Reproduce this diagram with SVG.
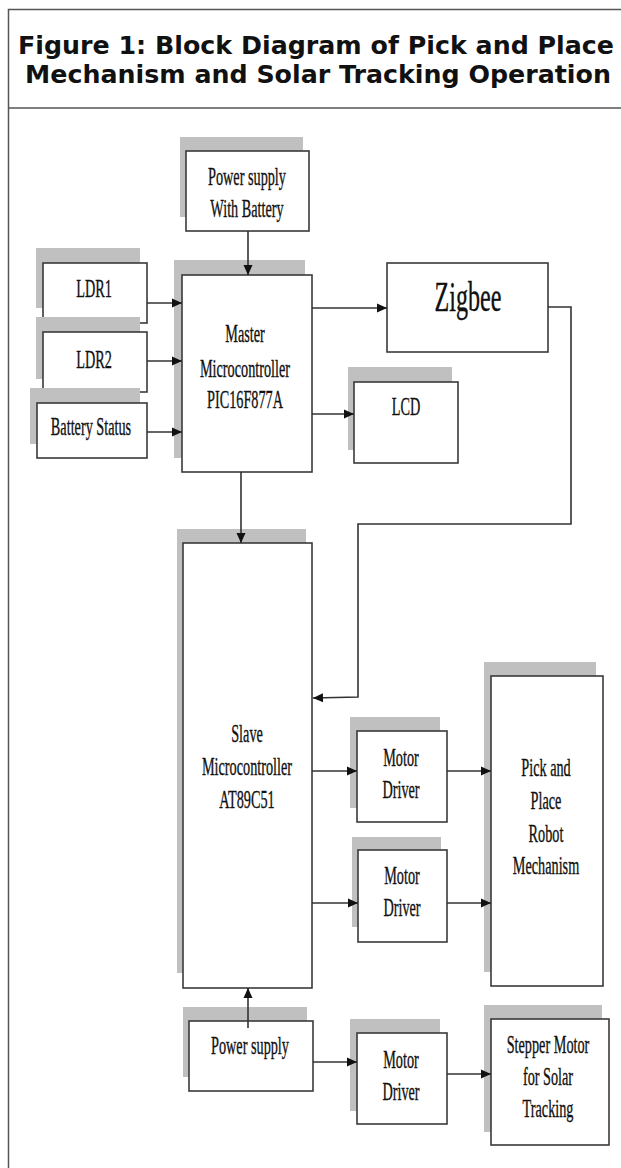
<svg xmlns="http://www.w3.org/2000/svg" width="621" height="1168" viewBox="0 0 621 1168">
<style>
.frame{fill:none;stroke:#555;stroke-width:1.5}
.title{font-family:"DejaVu Sans",Verdana,sans-serif;font-weight:bold;font-size:25.3px;fill:#111;text-anchor:middle}
.sh{fill:#c0c0c0}
.bx{fill:#fff;stroke:#3a3a3a;stroke-width:1.6}
.t{font-family:"Liberation Serif","Times New Roman",serif;font-size:25px;fill:#111;stroke:#111;stroke-width:0.35;text-anchor:middle}
.tz{font-family:"Liberation Serif","Times New Roman",serif;font-size:43px;fill:#111;stroke:#111;stroke-width:0.4;text-anchor:middle}
.c{fill:none;stroke:#333;stroke-width:1.6}
</style>
<defs>
<marker id="ah" markerUnits="userSpaceOnUse" markerWidth="11" markerHeight="11" refX="10" refY="5.5" orient="auto">
<path d="M0,1 L10,5.5 L0,10 z" fill="#111"/>
</marker>
</defs>
<rect x="0" y="0" width="621" height="1168" fill="#fff"/>
<g id="frame">
<rect class="frame" x="8.5" y="9.5" width="630" height="1180"/>
<line class="frame" x1="8" y1="108" x2="621" y2="108"/>
<text class="title" x="316" y="54">Figure 1: Block Diagram of Pick and Place</text>
<text class="title" x="318" y="83">Mechanism and Solar Tracking Operation</text>
</g>
<g id="psb">
<rect class="sh" x="180" y="137" width="123" height="80"/>
<rect class="bx" x="186" y="151" width="123" height="80"/>
<text class="t" transform="translate(247,185) scale(0.57,1)">Power supply</text>
<text class="t" transform="translate(247,217) scale(0.57,1)">With Battery</text>
</g>
<g id="ldr1">
<rect class="sh" x="36" y="248" width="104" height="60"/>
<rect class="bx" x="43" y="263" width="104" height="60"/>
<text class="t" transform="translate(94,297) scale(0.57,1)">LDR1</text>
</g>
<g id="ldr2">
<rect class="sh" x="36" y="317" width="104" height="62"/>
<rect class="bx" x="43" y="332" width="104" height="60"/>
<text class="t" transform="translate(94,368) scale(0.57,1)">LDR2</text>
</g>
<g id="battery">
<rect class="sh" x="30" y="388" width="110" height="56"/>
<rect class="bx" x="37" y="403" width="110" height="55"/>
<text class="t" transform="translate(91,435) scale(0.57,1)">Battery Status</text>
</g>
<g id="master">
<rect class="sh" x="174" y="260" width="131" height="198"/>
<rect class="bx" x="182" y="275" width="130" height="197"/>
<text class="t" transform="translate(245,342) scale(0.57,1)">Master</text>
<text class="t" transform="translate(245,377) scale(0.57,1)">Microcontroller</text>
<text class="t" transform="translate(245,408) scale(0.57,1)">PIC16F877A</text>
</g>
<g id="zigbee">
<rect class="bx" x="387" y="263" width="161" height="89"/>
<text class="tz" transform="translate(468,311) scale(0.56,1)">Zigbee</text>
</g>
<g id="lcd">
<rect class="sh" x="348" y="367" width="104" height="83"/>
<rect class="bx" x="354" y="382" width="104" height="81"/>
<text class="t" transform="translate(406,415) scale(0.57,1)">LCD</text>
</g>
<g id="slave">
<rect class="sh" x="177" y="529" width="129" height="444"/>
<rect class="bx" x="183" y="543" width="129" height="445"/>
<text class="t" transform="translate(247,742) scale(0.57,1)">Slave</text>
<text class="t" transform="translate(247,775) scale(0.57,1)">Microcontroller</text>
<text class="t" transform="translate(247,808) scale(0.57,1)">AT89C51</text>
</g>
<g id="md1">
<rect class="sh" x="350" y="717" width="90" height="91"/>
<rect class="bx" x="357" y="731" width="90" height="91"/>
<text class="t" transform="translate(401,766) scale(0.57,1)">Motor</text>
<text class="t" transform="translate(401,798) scale(0.57,1)">Driver</text>
</g>
<g id="md2">
<rect class="sh" x="352" y="837" width="89" height="90"/>
<rect class="bx" x="358" y="850" width="89" height="92"/>
<text class="t" transform="translate(402,884) scale(0.57,1)">Motor</text>
<text class="t" transform="translate(402,916) scale(0.57,1)">Driver</text>
</g>
<g id="pnp">
<rect class="sh" x="484" y="662" width="112" height="310"/>
<rect class="bx" x="491" y="676" width="112" height="310"/>
<text class="t" transform="translate(546,776) scale(0.57,1)">Pick and</text>
<text class="t" transform="translate(546,809) scale(0.57,1)">Place</text>
<text class="t" transform="translate(546,842) scale(0.57,1)">Robot</text>
<text class="t" transform="translate(546,874) scale(0.57,1)">Mechanism</text>
</g>
<g id="ps">
<rect class="sh" x="183" y="1007" width="124" height="70"/>
<rect class="bx" x="189" y="1021" width="124" height="70"/>
<text class="t" transform="translate(250,1054) scale(0.57,1)">Power supply</text>
</g>
<g id="md3">
<rect class="sh" x="350" y="1019" width="90" height="92"/>
<rect class="bx" x="357" y="1033" width="90" height="91"/>
<text class="t" transform="translate(401,1068) scale(0.57,1)">Motor</text>
<text class="t" transform="translate(401,1100) scale(0.57,1)">Driver</text>
</g>
<g id="stepper">
<rect class="sh" x="484" y="1005" width="118" height="127"/>
<rect class="bx" x="491" y="1019" width="118" height="126"/>
<text class="t" transform="translate(548,1053) scale(0.57,1)">Stepper Motor</text>
<text class="t" transform="translate(548,1085) scale(0.57,1)">for Solar</text>
<text class="t" transform="translate(548,1117) scale(0.57,1)">Tracking</text>
</g>
<g id="connectors">
<line class="c" x1="248" y1="231" x2="248" y2="275" marker-end="url(#ah)"/>
<line class="c" x1="147" y1="303" x2="182" y2="303" marker-end="url(#ah)"/>
<line class="c" x1="147" y1="361" x2="182" y2="361" marker-end="url(#ah)"/>
<line class="c" x1="147" y1="432" x2="182" y2="432" marker-end="url(#ah)"/>
<line class="c" x1="312" y1="308" x2="387" y2="308" marker-end="url(#ah)"/>
<line class="c" x1="312" y1="414" x2="354" y2="414" marker-end="url(#ah)"/>
<line class="c" x1="241" y1="472" x2="241" y2="543" marker-end="url(#ah)"/>
<polyline class="c" points="548,307 571,307 571,524 358,524 358,697 313,698" marker-end="url(#ah)"/>
<line class="c" x1="312" y1="771" x2="357" y2="771" marker-end="url(#ah)"/>
<line class="c" x1="447" y1="771" x2="491" y2="771" marker-end="url(#ah)"/>
<line class="c" x1="312" y1="903" x2="358" y2="903" marker-end="url(#ah)"/>
<line class="c" x1="447" y1="903" x2="491" y2="903" marker-end="url(#ah)"/>
<line class="c" x1="248" y1="1028" x2="248" y2="988" marker-end="url(#ah)"/>
<line class="c" x1="313" y1="1062" x2="357" y2="1062" marker-end="url(#ah)"/>
<line class="c" x1="447" y1="1074" x2="491" y2="1074" marker-end="url(#ah)"/>
</g>
</svg>
